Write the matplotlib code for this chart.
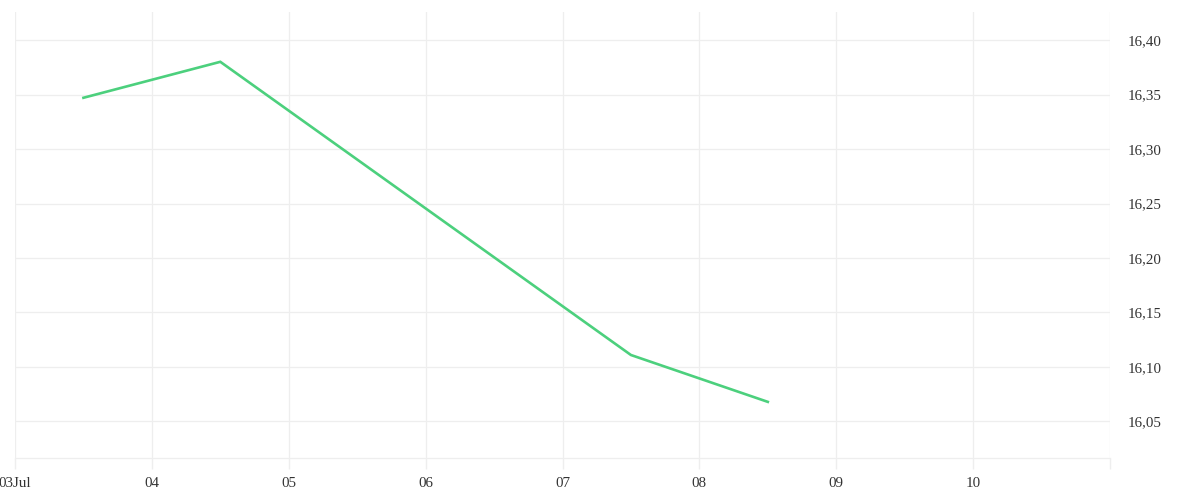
import matplotlib
matplotlib.use("Agg")
import matplotlib.pyplot as plt
import matplotlib.dates as mdates
import numpy as np
from datetime import datetime

# data
times = ["2024-07-03 12:00", "2024-07-04 12:00", "2024-07-07 12:00", "2024-07-08 12:00"]
values = [16.347, 16.380, 16.111, 16.068]

y_ticks = [16.05, 16.10, 16.15, 16.20, 16.25, 16.30, 16.35, 16.40]
x_tick_days = ["2024-07-03", "2024-07-04", "2024-07-05", "2024-07-06",
               "2024-07-07", "2024-07-08", "2024-07-09", "2024-07-10", "2024-07-11"]
x_tick_labels = ["03Jul", "04", "05", "06", "07", "08", "09", "10", ""]

plt.rcParams['font.family'] = ['Liberation Serif', 'DejaVu Serif']

fig = plt.figure(figsize=(12, 5), dpi=100)
ax = fig.add_axes([15 / 1200, 42 / 500, 1095 / 1200, 446 / 500])

x = [datetime.strptime(t, "%Y-%m-%d %H:%M") for t in times]
ax.plot(x, values, color='#4cd07d', linewidth=1.9, solid_joinstyle='miter')

xt = [datetime.strptime(d, "%Y-%m-%d") for d in x_tick_days]
ax.set_xlim(xt[0], xt[-1])
ax.set_ylim(16.0165, 16.4257)

ax.set_xticks(xt)
ax.set_xticklabels(x_tick_labels)
ax.set_yticks(y_ticks)
ax.set_yticklabels([f"{v:.2f}".replace('.', ',') for v in y_ticks])

ax.yaxis.tick_right()
ax.tick_params(axis='y', length=0, pad=12.5, labelsize=10.8, labelcolor='#333333')
ax.tick_params(axis='x', length=8, width=1, color='#eeeeee', pad=6,
               labelsize=10.8, labelcolor='#333333')
for lbl in ax.get_yticklabels():
    lbl.set_horizontalalignment('left')

ax.grid(True, color='#eeeeee', linewidth=0.9)
ax.set_axisbelow(True)
for side in ['top', 'left', 'right']:
    ax.spines[side].set_visible(False)
ax.spines['bottom'].set_color('#eeeeee')
ax.spines['bottom'].set_linewidth(0.9)

fig.savefig("out.png", dpi=100, facecolor='white')
